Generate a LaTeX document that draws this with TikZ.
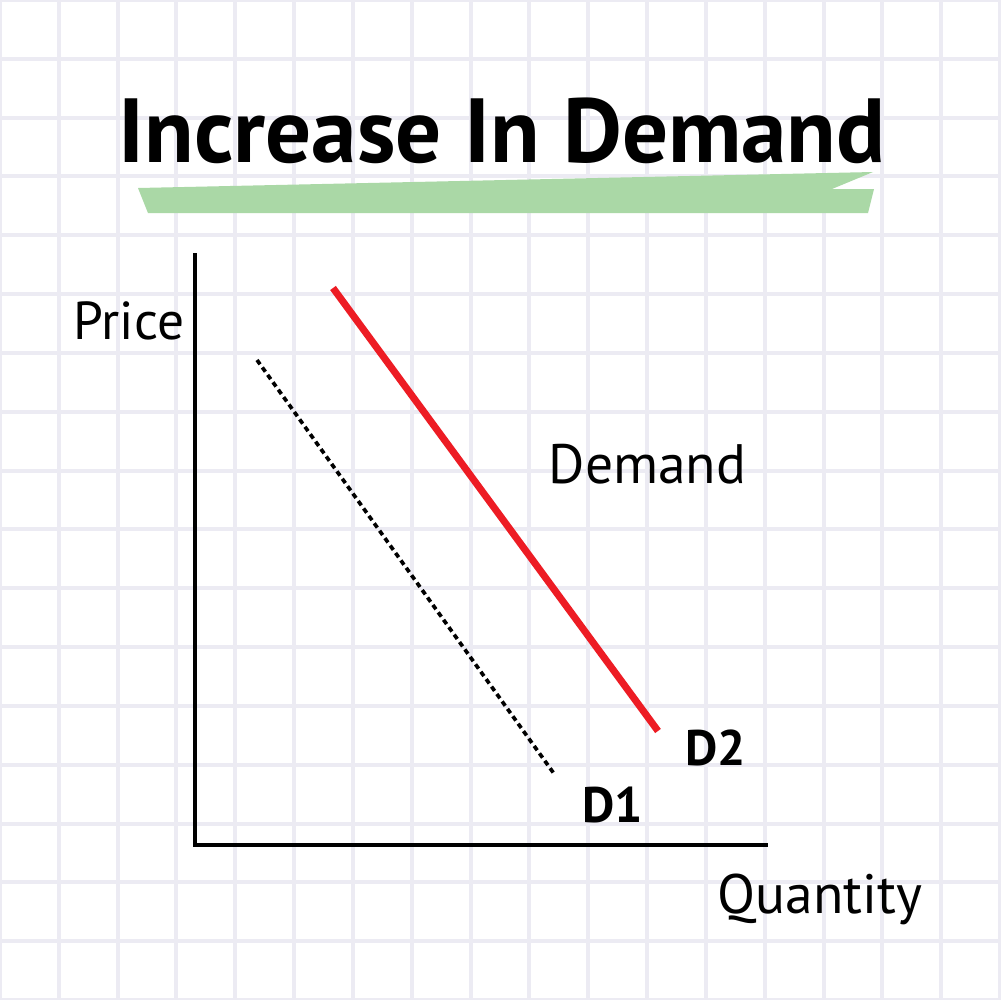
\documentclass[tikz,border=0pt]{standalone}
\usepackage{fontspec}
\setmainfont{PT Sans}
\usepackage{tikz}
\usetikzlibrary{positioning}
\definecolor{gridlav}{RGB}{236, 235, 243}
\definecolor{markgreen}{RGB}{170, 216, 166}
\definecolor{demandred}{RGB}{237, 28, 36}

\tikzset{
  axisline/.style={draw=black, line width=1.15pt},
  lbl/.style={inner sep=0pt, anchor=base west, font=\fontsize{15.8}{19}\selectfont},
  curvelbl/.style={inner sep=0pt, anchor=base west, font=\bfseries\fontsize{14.2}{17}\selectfont}
}

\begin{document}
\begin{tikzpicture}[x=0.1mm, y=-0.1mm]
    \useasboundingbox (0,0) rectangle (1000,1000);
    % Paper with grid
    \fill[white] (0,0) rectangle (1000,1000);
    \foreach \k in {0,...,17}{
        \draw[gridlav, line width=1.15pt] ({\k*58.8235},0) -- ({\k*58.8235},1000);
        \draw[gridlav, line width=1.15pt] (0,{\k*58.8235}) -- (1000,{\k*58.8235});
    }

    % Title and marker strip
    \fill[markgreen] (138,188) -- (873,172) -- (832,189) -- (874,189)
        -- (868,213) -- (148,213) -- cycle;
    \node[inner sep=0pt, anchor=base west, font=\bfseries\fontsize{25.9}{30}\selectfont]
        (title) at (118,162) {Increase In Demand};

    % Axes
    \coordinate (origin) at (195,845);
    \coordinate (ytop) at (195,253);
    \coordinate (xend) at (768,845);
    \draw[axisline] (ytop) -- (origin) -- (xend);
    \node[lbl, font=\fontsize{15.2}{18}\selectfont] (price) at (73,339) {Price};
    \node[lbl] (quantity) at (717,913) {Quantity};

    % Old demand (dotted) and new demand (red)
    \coordinate (d1top) at (257,360);
    \coordinate (d1end) at (555,775);
    \draw[black, line width=1.05pt, dash pattern=on 1.5pt off 1.1pt] (d1top) -- (d1end);
    \coordinate (d2top) at (333,288);
    \coordinate (d2end) at (658,731);
    \draw[demandred, line width=2pt] (d2top) -- (d2end);

    \node[lbl] (demand) at (548,483) {Demand};
    \node[curvelbl] (dtwo) at (685,765) {D2};
    \node[curvelbl] (done) at (582,822) {D1};
\end{tikzpicture}
\end{document}
